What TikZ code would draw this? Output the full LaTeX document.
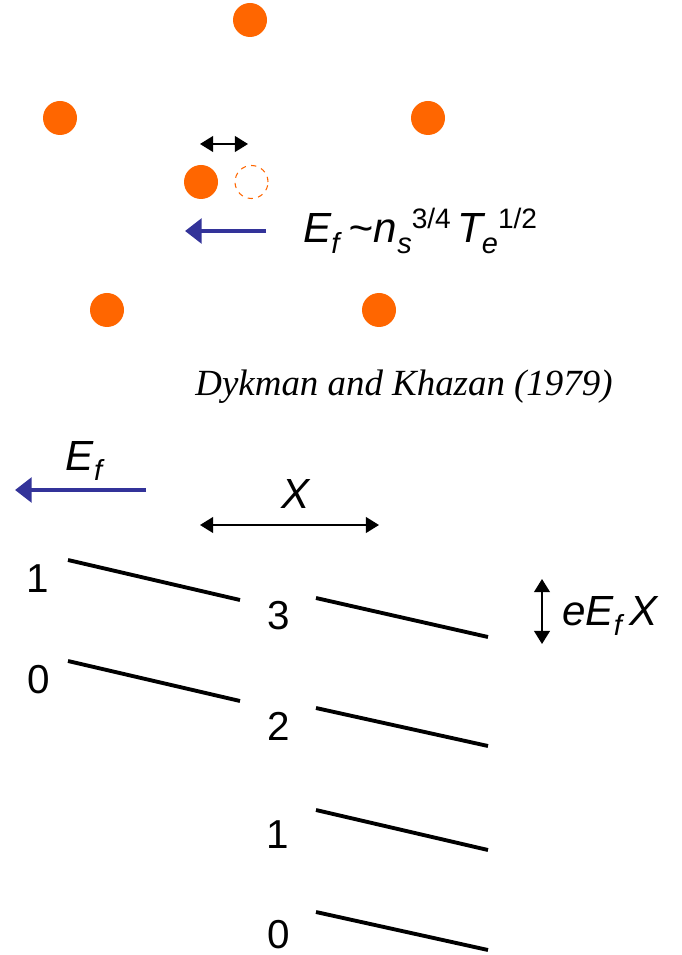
\documentclass[tikz,border=0pt]{standalone}
\usepackage{fontspec}
\setmainfont{Liberation Sans}
\newfontfamily\citefont{Liberation Serif}
\usetikzlibrary{arrows.meta}

\definecolor{dotorange}{RGB}{255,102,0}
\definecolor{fieldblue}{RGB}{51,51,153}

\newcommand\lowidx[1]{\raisebox{-6pt}{\fontsize{16.5}{18}\selectfont #1}}
\newcommand\highidx[1]{\raisebox{8pt}{\fontsize{16}{18}\selectfont\upshape #1}}

\tikzset{
  electron/.style={circle, fill=dotorange, inner sep=0pt, minimum size=34*0.02cm},
  vacancy/.style={circle, draw=dotorange, dashed, line width=0.6pt, inner sep=0pt, minimum size=33*0.02cm},
  field/.style={fieldblue, line width=2.3pt, -{Triangle[length=9.5pt, width=14pt]}},
  span/.style={line width=1.1pt, {Triangle[length=7.5pt, width=9pt]}-{Triangle[length=7.5pt, width=9pt]}},
  level/.style={line width=2.2pt},
  lab/.style={font=\fontsize{23}{26}\selectfont, inner sep=0pt, anchor=base},
  formula/.style={font=\fontsize{24}{28}\selectfont\itshape, inner sep=0pt}
}

\begin{document}
\begin{tikzpicture}[x=0.02cm, y=-0.02cm]
    \useasboundingbox (0,0) rectangle (681,955);

      % electron lattice
      \node[electron] (e1) at (250,20) {};
      \node[electron] (e2) at (60,118) {};
      \node[electron] (e3) at (428,118) {};
      \node[electron] (e4) at (201,182) {};
      \node[electron] (e5) at (107,310) {};
      \node[electron] (e6) at (379,310) {};
      \node[vacancy] (v4) at (251.5,182) {};

      % shift of the electron
      \coordinate (S1) at (200,144);
      \coordinate (S2) at (248,144);
      \draw[span] (S1) -- (S2);

      % field on the electron
      \coordinate (F1) at (266,231);
      \coordinate (F2) at (185,231);
      \draw[field] (F1) -- (F2);
      \node[formula, anchor=base west] (law) at (303,243)
        {E\lowidx{f}\kern5pt\textasciitilde\kern0.5pt n\lowidx{s}\highidx{3/4}\kern4pt T\kern-1pt\lowidx{e}\highidx{1/2}};

      \node[anchor=base, inner sep=0pt, font=\fontsize{21}{24}\selectfont\citefont\itshape] (ref) at (404,396)
        {Dykman and Khazan (1979)};

      % field and period
      \coordinate (G1) at (146,490);
      \coordinate (G2) at (15,490);
      \draw[field] (G1) -- (G2);
      \node[formula, anchor=base] (Ef) at (84,470) {E\lowidx{f}};

      \coordinate (X1) at (200,525);
      \coordinate (X2) at (379,525);
      \draw[span] (X1) -- (X2);
      \node[formula, anchor=base] (Xl) at (296,508) {X};

      % levels in the left well
      \coordinate (A1) at (68,560);
      \coordinate (A2) at (240,600);
      \coordinate (B1) at (68,661);
      \coordinate (B2) at (240,701);
      \draw[level] (A1) -- (A2);
      \draw[level] (B1) -- (B2);
      \node[lab] (nA) at (38,592) {1};
      \node[lab] (nB) at (39,693) {0};

      % levels in the right well
      \coordinate (C1) at (316,598);
      \coordinate (C2) at (488,637);
      \coordinate (D1) at (316,708);
      \coordinate (D2) at (488,746);
      \coordinate (E1) at (316,810);
      \coordinate (E2) at (488,850);
      \coordinate (H1) at (316,912);
      \coordinate (H2) at (488,950);
      \draw[level] (C1) -- (C2);
      \draw[level] (D1) -- (D2);
      \draw[level] (E1) -- (E2);
      \draw[level] (H1) -- (H2);
      \node[lab] (nC) at (279,629) {3};
      \node[lab] (nD) at (279,740) {2};
      \node[lab] (nE) at (278,848) {1};
      \node[lab] (nH) at (279,948) {0};

      % energy shift
      \coordinate (K1) at (542,579);
      \coordinate (K2) at (542,644);
      \draw[span] (K1) -- (K2);
      \node[formula, anchor=base west] (shift) at (562,625)
        {eE\lowidx{f}\kern4pt X};

\end{tikzpicture}
\end{document}
